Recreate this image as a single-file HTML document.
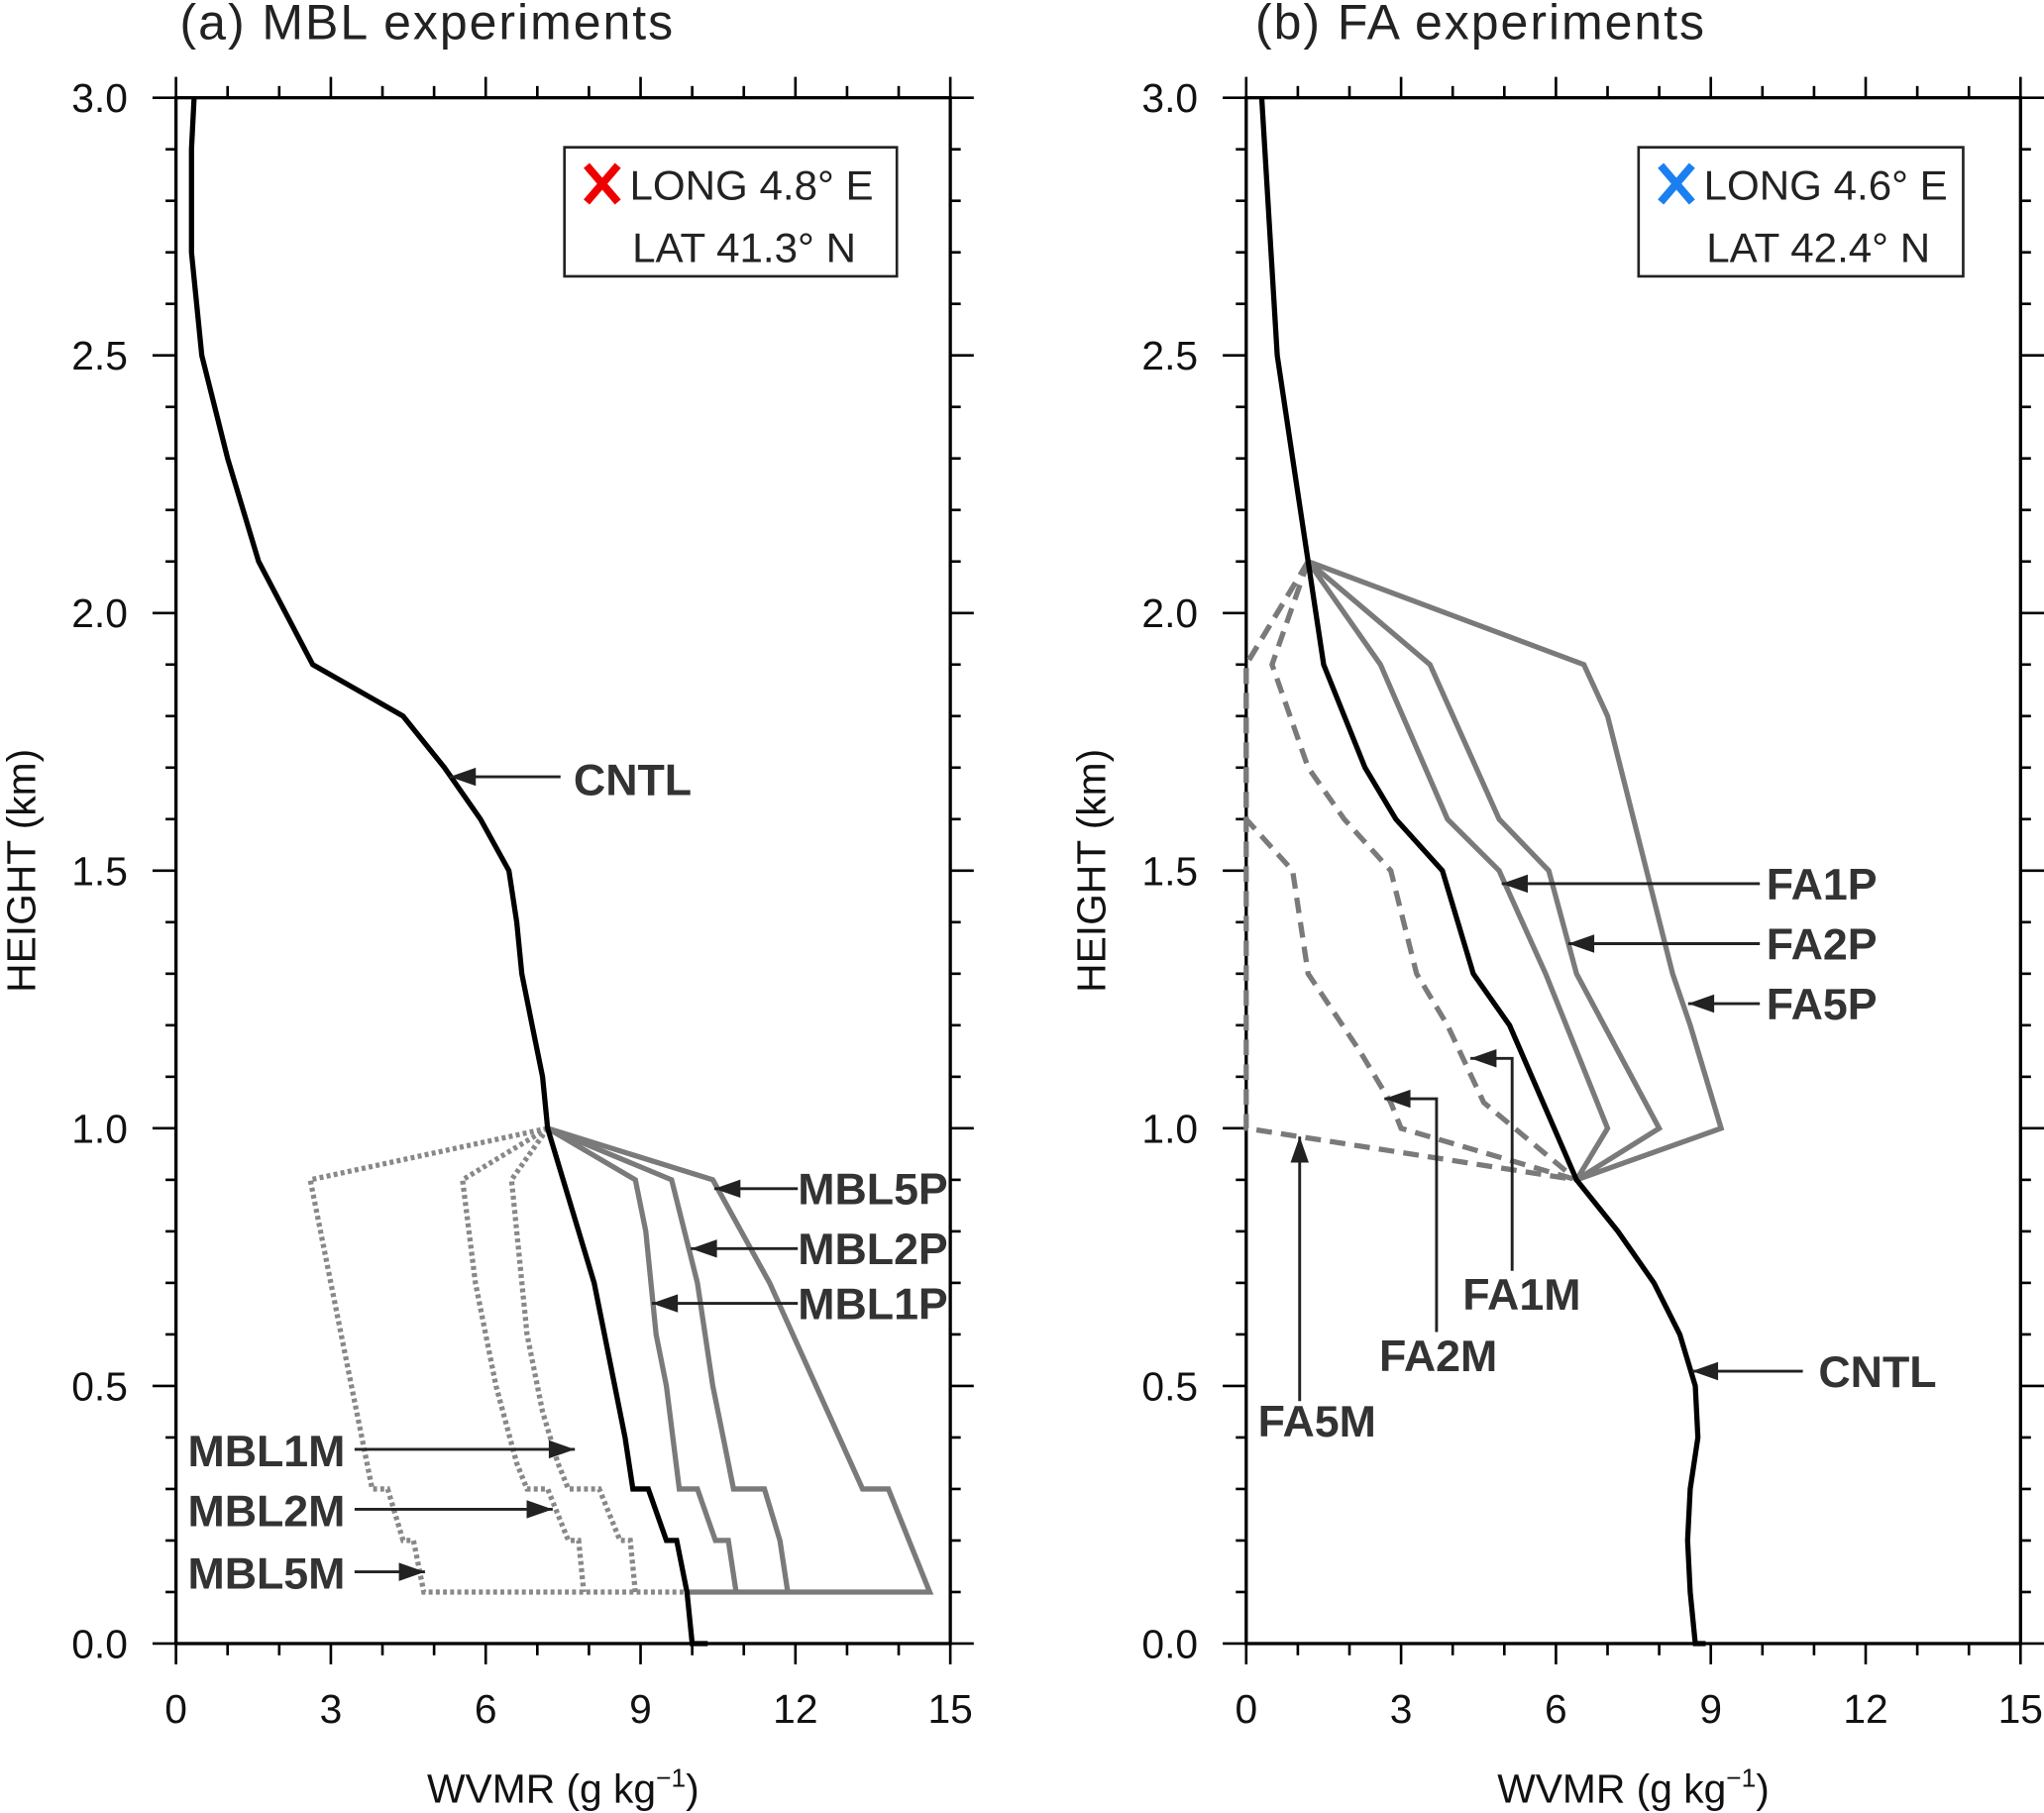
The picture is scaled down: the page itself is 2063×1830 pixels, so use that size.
<!DOCTYPE html>
<html><head><meta charset="utf-8"><style>
html,body{margin:0;padding:0;background:#fff;}
svg{display:block;}
text{font-family:"Liberation Sans",sans-serif;}
</style></head><body>
<svg id="chart" width="2063" height="1830" viewBox="0 0 1568 1391" preserveAspectRatio="none" xmlns="http://www.w3.org/2000/svg">
<g id="root"></g>
</svg>
<script>
// ---- data (x: WVMR g/kg, y: height km) ----
const xTicks = [0,3,6,9,12,15];
const yTicks = ["0.0","0.5","1.0","1.5","2.0","2.5","3.0"];
const mblCntlX = [0.35,0.3,0.3,0.5,1.0,1.6,2.65,4.4,5.2,5.9,6.45,6.6,6.7,6.9,7.1,7.2,7.5,7.8,8.1,8.3,8.5,8.7,8.85,9.15,9.5,9.7,9.9,10.0,10.3];
const mblCntlY = [3.0,2.9,2.7,2.5,2.3,2.1,1.9,1.8,1.7,1.6,1.5,1.4,1.3,1.2,1.1,1.0,0.9,0.8,0.7,0.6,0.5,0.4,0.3,0.3,0.2,0.2,0.1,0.0,0.0];
const mbl5pX = [7.2,10.4,11.5,12.4,13.3,13.8,14.2,14.6,9.9];
const mbl5pY = [1.0,0.9,0.7,0.5,0.3,0.3,0.2,0.1,0.1];
const mbl2pX = [7.2,9.6,10.1,10.4,10.6,10.8,11.4,11.7,11.85];
const mbl2pY = [1.0,0.9,0.7,0.5,0.4,0.3,0.3,0.2,0.1];
const mbl1pX = [7.2,8.9,9.1,9.3,9.5,9.75,10.1,10.45,10.7,10.85];
const mbl1pY = [1.0,0.9,0.8,0.6,0.5,0.3,0.3,0.2,0.2,0.1];
const mbl1mX = [7.2,6.5,6.6,6.8,7.1,7.4,7.6,8.2,8.6,8.8,8.9];
const mbl1mY = [1.0,0.9,0.8,0.6,0.45,0.35,0.3,0.3,0.2,0.2,0.1];
const mbl2mX = [7.2,5.55,5.8,6.2,6.6,6.8,7.2,7.6,7.8,7.9];
const mbl2mY = [1.0,0.9,0.7,0.5,0.35,0.3,0.3,0.2,0.2,0.1];
const mbl5mX = [7.2,2.6,3.0,3.4,3.8,4.1,4.4,4.6,4.8,9.9];
const mbl5mY = [1.0,0.9,0.7,0.5,0.3,0.3,0.2,0.2,0.1,0.1];

const faCntlX = [0.3,0.6,0.9,1.2,1.5,2.3,2.9,3.8,4.4,5.1,6.4,7.2,7.9,8.4,8.7,8.75,8.6,8.55,8.6,8.7,8.9];
const faCntlY = [3.0,2.5,2.3,2.1,1.9,1.7,1.6,1.5,1.3,1.2,0.9,0.8,0.7,0.6,0.5,0.4,0.3,0.2,0.1,0.0,0.0];
const fa1pX = [1.2,2.6,3.9,4.9,5.8,7.0,6.4];
const fa1pY = [2.1,1.9,1.6,1.5,1.3,1.0,0.9];
const fa2pX = [1.2,3.56,4.9,5.86,6.4,8.0,6.4];
const fa2pY = [2.1,1.9,1.6,1.5,1.3,1.0,0.9];
const fa5pX = [1.2,6.54,7.0,8.26,8.6,9.2,6.4];
const fa5pY = [2.1,1.9,1.8,1.3,1.2,1.0,0.9];
const fa1mX = [1.2,0.5,1.2,1.9,2.8,3.3,3.9,4.6,6.4];
const fa1mY = [2.1,1.9,1.7,1.6,1.5,1.3,1.2,1.05,0.9];
const fa2mX = [1.2,0,0,0.9,1.2,2.2,2.8,3.0,6.4];
const fa2mY = [2.1,1.9,1.6,1.5,1.3,1.15,1.05,1.0,0.9];
const fa5mX = [1.2,0,0,6.4];
const fa5mY = [2.1,1.9,1.0,0.9];

const NS = "http://www.w3.org/2000/svg";
const root = document.getElementById('root');
function mk(tag, attrs, parent){
  const e = document.createElementNS(NS, tag);
  for (const k in attrs) e.setAttribute(k, attrs[k]);
  (parent||root).appendChild(e);
  return e;
}
const Y0 = 1261, Y3 = 75;
function sy(v){ return Y0 + (Y3 - Y0) * v / 3; }

function panel(x0, name){
  const sx = v => x0 + v * (594 / 15);
  const g = mk('g', {});
  
  
  const x1 = sx(15);
  const fr = mk('rect', {x:x0, y:Y3, width:x1-x0, height:Y0-Y3, fill:'none', stroke:'#000', 'stroke-width':2.5}, g);
  
  
  for (let i=0;i<=15;i++){
    const X = sx(i), L = (i%3===0)?16:9;
    mk('line',{x1:X,y1:Y0,x2:X,y2:Y0+L,stroke:'#000','stroke-width':2},g);
    mk('line',{x1:X,y1:Y3,x2:X,y2:Y3-L,stroke:'#000','stroke-width':2},g);
  }
  xTicks.forEach(v=>{
    const t = mk('text',{x:sx(v),y:1322,'font-size':31,'text-anchor':'middle',fill:'#111'},g);
    
    
    t.textContent = v;
  });
  for (let i=0;i<=30;i++){
    const Yv = sy(i/10), L = (i%5===0)?18:8;
    mk('line',{x1:x0,y1:Yv,x2:x0-L,y2:Yv,stroke:'#000','stroke-width':2},g);
    mk('line',{x1:x1,y1:Yv,x2:x1+L,y2:Yv,stroke:'#000','stroke-width':2},g);
  }
  yTicks.forEach(s=>{
    const t = mk('text',{x:x0-37,y:sy(parseFloat(s))+11,'font-size':31,'text-anchor':'end',fill:'#111'},g);
    
    
    t.textContent = s;
  });
  const yt = mk('text',{x:0,y:0,'font-size':31,'text-anchor':'middle',fill:'#111',transform:`translate(${x0-108},668) rotate(-90)`},g);
  
  
  yt.textContent = 'HEIGHT (km)';
  const xt = mk('text',{x:(x0+x1)/2,y:1383,'font-size':31,'text-anchor':'middle',fill:'#111'},g);
  
  
  xt.innerHTML = 'WVMR (g kg<tspan dy="-12" font-size="20">−1</tspan><tspan dy="12">)</tspan>';
  return {g, sx};
}
function line(p, xs, ys, style, nm){
  const pts = xs.map((v,i)=>p.sx(v).toFixed(1)+','+sy(ys[i]).toFixed(1)).join(' ');
  const el = mk('polyline',Object.assign({points:pts,fill:'none','stroke-linejoin':'miter'},style),p.g);
  
  
}
const S_CNTL = {stroke:'#000','stroke-width':4};
const S_P = {stroke:'#7a7a7a','stroke-width':4};
const S_DOT = {stroke:'#888','stroke-width':4,'stroke-dasharray':'3 2.5'};
const S_DASH = {stroke:'#7a7a7a','stroke-width':4,'stroke-dasharray':'12 7'};

const A = panel(135, 'panel-a-mbl');
line(A, mbl5mX, mbl5mY, S_DOT, 'line-mbl5m');
line(A, mbl2mX, mbl2mY, S_DOT, 'line-mbl2m');
line(A, mbl1mX, mbl1mY, S_DOT, 'line-mbl1m');
line(A, mbl5pX, mbl5pY, S_P, 'line-mbl5p');
line(A, mbl2pX, mbl2pY, S_P, 'line-mbl2p');
line(A, mbl1pX, mbl1pY, S_P, 'line-mbl1p');
line(A, mblCntlX, mblCntlY, S_CNTL, 'line-cntl-a');

const B = panel(956, 'panel-b-fa');
line(B, fa5mX, fa5mY, S_DASH, 'line-fa5m');
line(B, fa2mX, fa2mY, S_DASH, 'line-fa2m');
line(B, fa1mX, fa1mY, S_DASH, 'line-fa1m');
line(B, fa5pX, fa5pY, S_P, 'line-fa5p');
line(B, fa2pX, fa2pY, S_P, 'line-fa2p');
line(B, fa1pX, fa1pY, S_P, 'line-fa1p');
line(B, faCntlX, faCntlY, S_CNTL, 'line-cntl-b');

const ann = mk('g',{});


function arrow(pts){
  mk('polyline',{points:pts.map(p=>p.join(',')).join(' '),fill:'none',stroke:'#222','stroke-width':2.2},ann);
  const [a,b] = [pts[pts.length-2], pts[pts.length-1]];
  const ang = Math.atan2(b[1]-a[1], b[0]-a[0]);
  const L=20,W=7;
  const p1=[b[0]-L*Math.cos(ang)+W*Math.sin(ang), b[1]-L*Math.sin(ang)-W*Math.cos(ang)];
  const p2=[b[0]-L*Math.cos(ang)-W*Math.sin(ang), b[1]-L*Math.sin(ang)+W*Math.cos(ang)];
  mk('polygon',{points:[b,p1,p2].map(p=>p.join(',')).join(' '),fill:'#222'},ann);
}
function lab(x,y,s,anchor){
  const t = mk('text',{x:x,y:y,'font-size':34,'font-weight':'bold',fill:'#333','text-anchor':anchor||'start'},ann);
  
  
  t.textContent = s;
}
lab(440,610,'CNTL'); arrow([[430,596],[345,596]]);
lab(612,924,'MBL5P'); arrow([[612,912],[548,912]]);
lab(612,970,'MBL2P'); arrow([[612,958],[530,958]]);
lab(612,1012,'MBL1P'); arrow([[612,1000],[500,1000]]);
lab(144,1125,'MBL1M'); arrow([[272,1112],[441,1112]]);
lab(144,1171,'MBL2M'); arrow([[272,1158],[424,1158]]);
lab(144,1219,'MBL5M'); arrow([[272,1206],[326,1206]]);
lab(1355,690,'FA1P'); arrow([[1350,678],[1152,678]]);
lab(1355,736,'FA2P'); arrow([[1350,724],[1203,724]]);
lab(1355,782,'FA5P'); arrow([[1350,770],[1295,770]]);
lab(1395,1064,'CNTL'); arrow([[1383,1052],[1298,1052]]);
lab(1122,1005,'FA1M'); arrow([[1160,975],[1160,812],[1128,812]]);
lab(1058,1052,'FA2M'); arrow([[1102,1022],[1102,843],[1062,843]]);
lab(965,1102,'FA5M'); arrow([[997,1075],[997,872]]);

function txt(x,y,s,size,nm,fill){
  const t = mk('text',{x:x,y:y,'font-size':size,fill:fill||'#222','letter-spacing':1.5},root);
  
  
  t.textContent = s;
  return t;
}
txt(138,30,'(a) MBL experiments',38,'title-a');
txt(963,30,'(b) FA experiments',38,'title-b');

function legend(x,w,color,l1,l2,nm){
  const g = mk('g',{});
  
  
  mk('rect',{x:x,y:113,width:w,height:99,fill:'#fff',stroke:'#222','stroke-width':2},g);
  const cx = x+29, cy=141;
  mk('path',{d:`M${cx-12},${cy-14} L${cx+12},${cy+14} M${cx+12},${cy-14} L${cx-12},${cy+14}`,stroke:color,'stroke-width':6},g);
  const a = mk('text',{x:x+50,y:153,'font-size':32,fill:'#222'},g); a.textContent = l1;
  const b = mk('text',{x:x+52,y:201,'font-size':32,fill:'#222'},g); b.textContent = l2;
}
legend(433,255,'#ee0000','LONG 4.8° E','LAT 41.3° N','location-legend-a');
legend(1257,249,'#1a7ff0','LONG 4.6° E','LAT 42.4° N','location-legend-b');
</script>
</body></html>
